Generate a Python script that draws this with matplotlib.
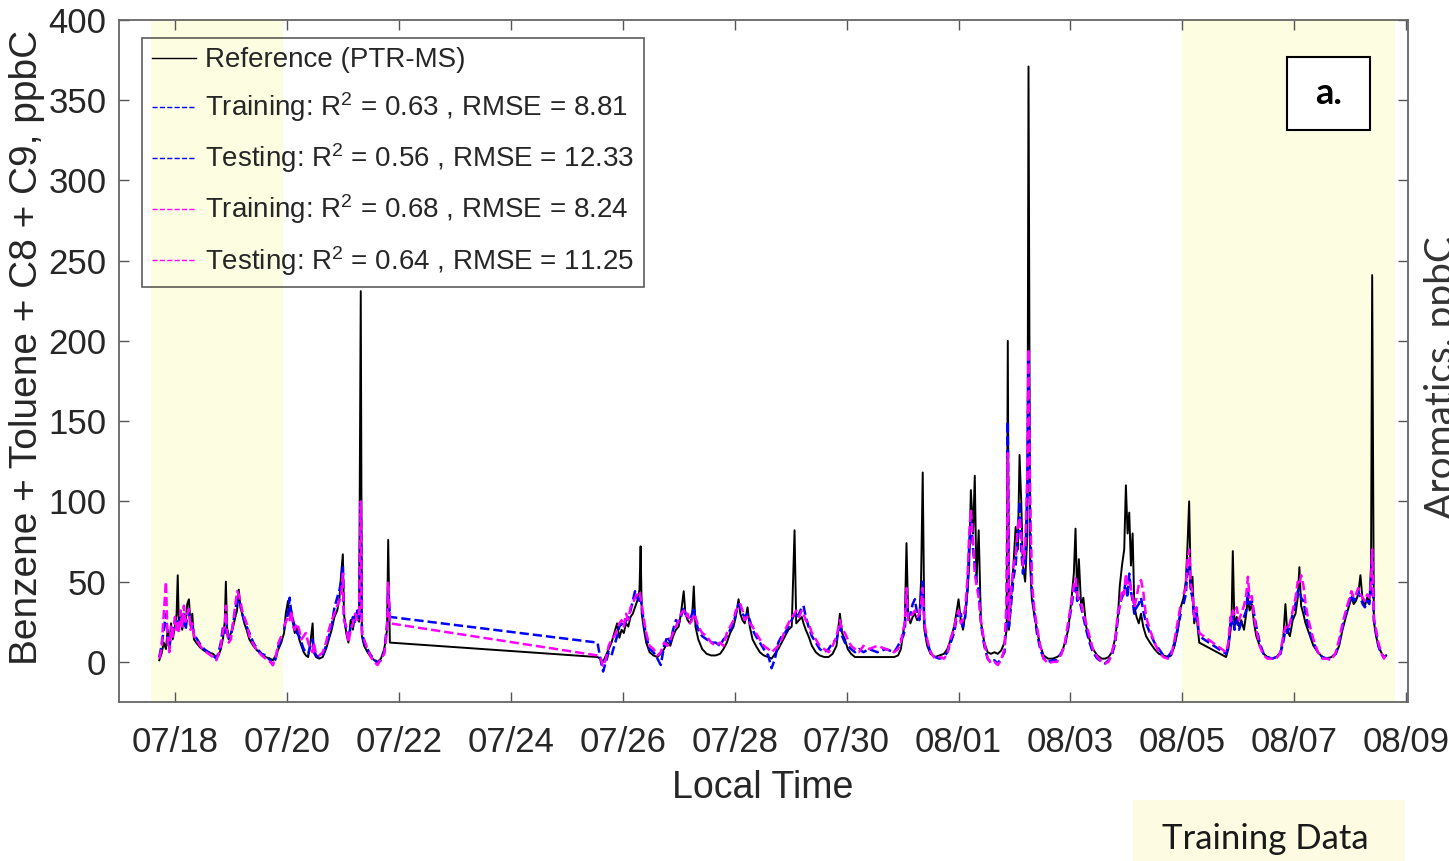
import numpy as np
import pandas as pd
import matplotlib
matplotlib.use("Agg")
import matplotlib.pyplot as plt
import matplotlib.dates as mdates
from matplotlib.patches import Rectangle

plt.rcParams["font.family"] = ["Liberation Sans", "DejaVu Sans"]
plt.rcParams["mathtext.fontset"] = "custom"
plt.rcParams["mathtext.rm"] = "Liberation Sans"
plt.rcParams["mathtext.it"] = "Liberation Sans"

# time axis: days after 07/17 00:00 local time
start = pd.Timestamp("2019-07-17")

day = [
    # 07/17 - 07/19
    0.72, 0.76, 0.80, 0.84, 0.87, 0.90, 0.93, 0.96, 1.00, 1.03,
    1.05, 1.07, 1.10, 1.13, 1.16, 1.19, 1.22, 1.25, 1.28, 1.31,
    1.34, 1.38, 1.45, 1.52, 1.60, 1.68, 1.74, 1.78, 1.82, 1.86,
    1.89, 1.91, 1.93, 1.96, 2.00, 2.04, 2.08, 2.11, 2.14, 2.17,
    2.20, 2.24, 2.28, 2.33, 2.40, 2.47, 2.55, 2.62, 2.70, 2.75,
    2.80, 2.85, 2.90, 2.95,
    # 07/20 - 07/21
    2.98, 3.02, 3.05, 3.08, 3.11, 3.14, 3.18, 3.22, 3.26, 3.30,
    3.34, 3.38, 3.42, 3.46, 3.48, 3.52, 3.58, 3.64, 3.70, 3.75,
    3.80, 3.85, 3.90, 3.94, 3.97, 4.00, 4.02, 4.06, 4.10, 4.14,
    4.18, 4.22, 4.26, 4.29, 4.32, 4.34, 4.38, 4.44, 4.50, 4.56,
    4.62, 4.68, 4.74, 4.79, 4.81, 4.84,
    # 07/25 - 07/27
    8.55, 8.60, 8.65, 8.70, 8.75, 8.80, 8.85, 8.90, 8.94, 8.98,
    9.02, 9.06, 9.10, 9.14, 9.18, 9.22, 9.26, 9.30, 9.32, 9.34,
    9.38, 9.42, 9.48, 9.55, 9.62, 9.68, 9.74, 9.80, 9.85, 9.90,
    9.95, 10.00, 10.04, 10.09, 10.12, 10.16, 10.20, 10.24, 10.27, 10.30,
    10.35, 10.42, 10.50, 10.58, 10.66, 10.74, 10.80, 10.86, 10.92, 10.98,
    # 07/28 - 07/30
    11.02, 11.07, 11.10, 11.14, 11.18, 11.23, 11.27, 11.32, 11.38, 11.45,
    11.52, 11.60, 11.66, 11.72, 11.78, 11.84, 11.90, 11.96, 12.02, 12.07,
    12.10, 12.15, 12.20, 12.23, 12.27, 12.32, 12.38, 12.45, 12.52, 12.60,
    12.68, 12.75, 12.82, 12.88, 12.92, 12.97, 13.02, 13.08, 13.15, 13.22,
    13.30, 13.40, 13.55, 13.70, 13.85, 13.92, 13.97,
    # 07/31 - 08/02
    14.01, 14.04, 14.07, 14.10, 14.14, 14.18, 14.22, 14.26, 14.30, 14.33,
    14.36, 14.39, 14.44, 14.50, 14.58, 14.66, 14.74, 14.80, 14.86, 14.92,
    14.96, 15.00, 15.04, 15.08, 15.12, 15.16, 15.19, 15.22, 15.26, 15.29,
    15.32, 15.36, 15.40, 15.46, 15.52, 15.58, 15.64, 15.70, 15.76, 15.82,
    15.86, 15.88, 15.90, 15.94, 15.98, 16.02, 16.06, 16.09, 16.12, 16.15,
    16.19, 16.23, 16.25, 16.28, 16.31, 16.35, 16.40, 16.46, 16.52, 16.60,
    16.68, 16.76, 16.84, 16.90, 16.96,
    # 08/03 - 08/05
    17.02, 17.06, 17.09, 17.12, 17.15, 17.19, 17.23, 17.28, 17.34, 17.40,
    17.48, 17.56, 17.62, 17.68, 17.74, 17.80, 17.85, 17.88, 17.92, 17.96,
    17.99, 18.02, 18.05, 18.08, 18.11, 18.14, 18.18, 18.22, 18.26, 18.30,
    18.35, 18.42, 18.50, 18.58, 18.66, 18.74, 18.80, 18.86, 18.92, 18.97,
    19.02, 19.06, 19.09, 19.12, 19.15, 19.18, 19.21, 19.25, 19.30,
    # 08/05 - 08/08
    19.78, 19.82, 19.86, 19.88, 19.90, 19.93, 19.97, 20.01, 20.05, 20.10,
    20.14, 20.17, 20.20, 20.24, 20.28, 20.32, 20.38, 20.45, 20.52, 20.60,
    20.68, 20.75, 20.80, 20.84, 20.87, 20.92, 20.97, 21.02, 21.06, 21.09,
    21.12, 21.16, 21.20, 21.24, 21.28, 21.34, 21.42, 21.50, 21.58, 21.66,
    21.74, 21.80, 21.86, 21.92, 21.97, 22.02, 22.06, 22.10, 22.14, 22.18,
    22.22, 22.26, 22.30, 22.34, 22.37, 22.39, 22.42, 22.46, 22.50, 22.55,
    22.60, 22.64,
]

# PTR-MS reference, ppbC
ref = [
    1, 5, 12, 8, 20, 10, 24, 14, 22, 30,
    54, 22, 30, 20, 28, 24, 36, 39, 22, 30,
    14, 12, 9, 7, 6, 5, 3, 4, 8, 15,
    25, 50, 22, 14, 18, 22, 28, 32, 45, 34,
    30, 24, 20, 14, 10, 7, 5, 3, 2, 1,
    4, 8, 12, 18,
    30, 38, 28, 32, 24, 18, 22, 14, 10, 6,
    4, 3, 12, 24, 6, 3, 2, 3, 8, 14,
    20, 28, 32, 40, 55, 67, 30, 18, 12, 26,
    20, 30, 28, 25, 231, 16, 10, 6, 3, 1,
    0, 2, 8, 20, 76, 12,
    3, 2, 0, 4, 8, 12, 18, 24, 15, 20,
    18, 24, 22, 28, 30, 34, 38, 45, 72, 30,
    20, 12, 6, 4, 3, 5, 8, 12, 10, 16,
    20, 22, 30, 44, 30, 26, 24, 28, 47, 22,
    14, 8, 5, 4, 4, 5, 8, 12, 18, 22,
    28, 39, 30, 26, 24, 34, 22, 14, 10, 6,
    4, 3, 2, 5, 8, 12, 16, 20, 22, 82,
    24, 26, 28, 24, 20, 16, 10, 6, 4, 3,
    3, 5, 10, 30, 18, 14, 8, 5, 3, 3,
    3, 3, 3, 3, 3, 4, 8,
    18, 25, 74, 30, 24, 28, 30, 26, 28, 50,
    118, 20, 10, 5, 3, 4, 5, 8, 14, 22,
    30, 39, 26, 20, 30, 44, 60, 107, 80, 116,
    50, 82, 25, 12, 6, 5, 6, 5, 7, 12,
    20, 200, 20, 40, 60, 84, 70, 129, 100, 60,
    50, 80, 371, 60, 39, 30, 20, 10, 4, 2,
    2, 3, 5, 12, 20,
    40, 55, 83, 40, 64, 35, 40, 22, 14, 8,
    4, 2, 2, 3, 6, 15, 30, 47, 60, 70,
    110, 80, 93, 60, 80, 35, 28, 24, 30, 22,
    16, 12, 8, 5, 4, 3, 4, 10, 20, 34,
    40, 50, 72, 100, 45, 53, 24, 30, 12,
    3, 8, 20, 30, 69, 22, 28, 22, 26, 20,
    30, 40, 32, 36, 24, 16, 10, 5, 3, 2,
    3, 6, 14, 36, 20, 16, 26, 30, 40, 59,
    35, 30, 24, 20, 16, 10, 6, 3, 2, 3,
    5, 10, 20, 28, 34, 40, 36, 38, 42, 54,
    38, 35, 40, 38, 60, 241, 25, 16, 10, 6,
    3, 4,
]

# model 1 (blue)
blue = [
    3, 10, 20, 30, 15, 8, 18, 20, 25, 22,
    26, 20, 28, 25, 30, 20, 28, 30, 25, 22,
    18, 15, 11, 8, 6, 4, 2, 6, 12, 22,
    18, 30, 20, 15, 16, 24, 32, 40, 38, 36,
    30, 26, 22, 18, 12, 8, 5, 4, 1, -2,
    2, 10, 14, 20,
    26, 30, 40, 30, 26, 22, 18, 16, 12, 8,
    6, 5, 10, 14, 8, 4, 3, 4, 10, 16,
    22, 34, 40, 45, 50, 60, 28, 20, 14, 22,
    28, 25, 32, 28, 100, 20, 12, 8, 4, 2,
    -1, 1, 6, 24, 45, 28,
    12, 2, -6, 0, 6, 4, 10, 16, 22, 24,
    22, 26, 28, 32, 38, 44, 40, 38, 42, 34,
    24, 16, 8, 6, 2, -2, 10, 16, 12, 20,
    26, 24, 28, 34, 30, 28, 26, 30, 34, 26,
    20, 16, 14, 12, 12, 10, 14, 16, 20, 24,
    30, 36, 34, 30, 28, 30, 26, 20, 16, 12,
    8, 4, -4, 2, 12, 16, 18, 22, 26, 30,
    28, 30, 34, 35, 28, 22, 16, 12, 8, 6,
    8, 12, 14, 22, 16, 12, 10, 8, 6, 8,
    6, 8, 6, 8, 6, 10, 14,
    16, 20, 42, 28, 30, 36, 39, 30, 26, 40,
    50, 22, 12, 6, 3, 2, 3, 6, 12, 18,
    26, 30, 30, 22, 28, 46, 72, 90, 70, 60,
    50, 45, 24, 10, 2, 0, 1, -1, 2, 6,
    30, 150, 22, 36, 52, 60, 80, 100, 70, 55,
    60, 110, 190, 90, 45, 32, 18, 8, 2, 0,
    1, 1, 6, 10, 22,
    35, 45, 50, 38, 40, 34, 28, 20, 12, 6,
    2, 0, -1, 1, 4, 12, 28, 36, 40, 45,
    50, 40, 55, 44, 38, 30, 34, 36, 40, 32,
    24, 18, 12, 8, 4, 3, 6, 12, 22, 30,
    36, 42, 58, 60, 44, 40, 26, 32, 16,
    5, 10, 24, 22, 28, 20, 26, 20, 24, 28,
    32, 45, 36, 38, 30, 22, 12, 5, 3, 2,
    3, 5, 12, 20, 18, 22, 30, 36, 44, 45,
    40, 38, 30, 24, 18, 12, 6, 3, 2, 3,
    5, 12, 22, 30, 36, 42, 38, 40, 44, 40,
    36, 34, 38, 36, 45, 68, 26, 18, 10, 5,
    3, 4,
]

# model 2 (magenta)
mag = [
    2, 8, 30, 50, 12, 6, 22, 15, 28, 20,
    24, 18, 32, 22, 35, 25, 30, 33, 20, 24,
    16, 14, 10, 7, 5, 3, 1, 5, 10, 20,
    22, 35, 18, 12, 14, 25, 36, 44, 42, 38,
    32, 28, 24, 16, 11, 7, 4, 2, 0, -2,
    3, 12, 16, 22,
    25, 28, 26, 32, 22, 20, 24, 20, 14, 16,
    18, 12, 8, 6, 12, 5, 4, 6, 12, 20,
    26, 30, 35, 38, 42, 55, 26, 22, 12, 20,
    24, 30, 26, 30, 100, 18, 14, 8, 3, 0,
    -2, 2, 5, 20, 50, 24,
    4, 3, -3, 2, 10, 14, 16, 20, 24, 26,
    22, 30, 26, 34, 36, 40, 42, 44, 40, 36,
    26, 18, 10, 8, 4, 6, 12, 10, 14, 18,
    22, 26, 30, 32, 28, 30, 24, 26, 30, 28,
    22, 18, 16, 12, 10, 12, 10, 18, 22, 26,
    32, 34, 36, 32, 26, 28, 24, 22, 18, 14,
    10, 8, 6, 8, 10, 14, 20, 24, 28, 30,
    32, 28, 32, 30, 26, 24, 18, 14, 10, 8,
    6, 10, 16, 26, 20, 18, 14, 10, 8, 6,
    10, 8, 10, 8, 6, 8, 12,
    20, 24, 46, 26, 28, 30, 32, 28, 30, 36,
    46, 24, 14, 6, 2, 3, 2, 5, 15, 20,
    28, 32, 24, 26, 34, 52, 80, 95, 75, 55,
    48, 40, 26, 12, 2, -1, 0, -2, 1, 8,
    40, 130, 26, 45, 60, 66, 85, 90, 80, 60,
    70, 120, 195, 100, 50, 34, 22, 10, 2, -1,
    0, 0, 5, 12, 25,
    38, 48, 52, 42, 38, 36, 30, 24, 16, 8,
    3, 0, -1, 0, 6, 14, 32, 34, 45, 42,
    55, 48, 50, 46, 40, 34, 40, 48, 51, 44,
    28, 20, 12, 6, 3, 2, 4, 14, 26, 36,
    42, 46, 64, 70, 48, 44, 28, 34, 18,
    6, 12, 28, 26, 32, 30, 34, 26, 30, 35,
    42, 53, 40, 41, 28, 20, 10, 4, 2, 2,
    2, 6, 16, 22, 20, 24, 32, 40, 50, 48,
    54, 48, 36, 28, 22, 14, 6, 2, 2, 1,
    6, 14, 24, 32, 38, 44, 40, 42, 46, 42,
    40, 38, 42, 40, 50, 70, 28, 20, 12, 6,
    2, 5,
]

train_windows = [(0.57, 2.93), (19.0, 22.8)]  # days after 07/17

labels = [
    "Reference (PTR-MS)",
    "Training: R$^2$ = 0.63 , RMSE = 8.81",
    "Testing: R$^2$ = 0.56 , RMSE = 12.33",
    "Training: R$^2$ = 0.68 , RMSE = 8.24",
    "Testing: R$^2$ = 0.64 , RMSE = 11.25",
]

assert len(day) == len(ref) == len(blue) == len(mag)
day = np.array(day)
ref = np.array(ref, float)
blue = np.array(blue, float)
mag = np.array(mag, float)
times = (start + pd.to_timedelta(day, unit="D")).to_numpy()

train = np.zeros(len(day), bool)
for a, b in train_windows:
    train |= (day >= a) & (day <= b)

fig = plt.figure(figsize=(14.49, 8.61), dpi=100)
ax = fig.add_axes([0.0821, 0.1847, 0.8896, 0.7921])

for a, b in train_windows:
    ax.axvspan(start + pd.Timedelta(days=a), start + pd.Timedelta(days=b),
               color="#fdfde2", lw=0, zorder=0)

ax.plot(times, ref, color="black", lw=1.4, label=labels[0], zorder=2)
ax.plot(times, np.where(train, blue, np.nan), "--", color="#0000ff", lw=1.8, label=labels[1], zorder=3)
ax.plot(times, np.where(~train, blue, np.nan), "--", color="#0000ff", lw=1.8, label=labels[2], zorder=3)
ax.plot(times, np.where(train, mag, np.nan), "--", color="#ff00ff", lw=1.8, label=labels[3], zorder=4)
ax.plot(times, np.where(~train, mag, np.nan), "--", color="#ff00ff", lw=1.8, label=labels[4], zorder=4)

ax.set_xlim(start, start + pd.Timedelta(days=23.03))
ax.set_ylim(-25, 400)
ax.set_yticks(np.arange(0, 401, 50))
ax.set_xticks(pd.date_range("2019-07-18", periods=12, freq="2D"))
ax.xaxis.set_major_formatter(mdates.DateFormatter("%m/%d"))

ax.tick_params(direction="in", length=7, width=1, color="#555555",
               labelcolor="#262626", labelsize=25, top=True, right=True)
ax.tick_params(axis="x", pad=17)
ax.tick_params(axis="y", pad=9)
for s in ax.spines.values():
    s.set_color("#666666")
    s.set_linewidth(1.3)

ax.set_ylabel("Benzene + Toluene + C8 + C9, ppbC", fontsize=28, color="#262626")
ax.yaxis.set_label_coords(-0.057, 0.52)
ax.set_xlabel("Local Time", fontsize=27, color="#262626", va="top")
ax.xaxis.set_label_coords(0.499, -0.1)

leg = ax.legend(loc="upper left", bbox_to_anchor=(0.018, 0.974), borderaxespad=0,
                fontsize=20, fancybox=False, edgecolor="#333333", facecolor="none",
                handlelength=1.6, handletextpad=0.3, labelspacing=0.62, borderpad=0.35)
leg.get_frame().set_linewidth(1.2)
for ln in leg.get_lines():
    ln.set_linewidth(1.0)
for t in leg.get_texts():
    t.set_color("#262626")

# panel tag
ax.add_patch(Rectangle((0.906, 0.839), 0.0645, 0.107, transform=ax.transAxes,
                       facecolor="white", edgecolor="black", lw=1.5, zorder=5))
ax.text(0.938, 0.892, "a.", transform=ax.transAxes, ha="center", va="center",
        fontsize=26, fontweight="bold", family="Lato", zorder=6)

# neighbouring panel label, cut by the figure edge as in the source figure
fig.text(1424 / 1449, 0.561, "Aromatics, ppbC", rotation=90, ha="left", va="center",
         fontsize=28, family="Lato", color="#333333")

fig.patches.append(Rectangle((0.782, 0), 0.1877, 0.0708, transform=fig.transFigure,
                             facecolor="#fdfce3", edgecolor="none"))
fig.text(0.873, 0.026, "Training Data", ha="center", va="center",
         fontsize=25, family="Lato", color="#1a1a1a")

fig.savefig("out.png", dpi=100)
